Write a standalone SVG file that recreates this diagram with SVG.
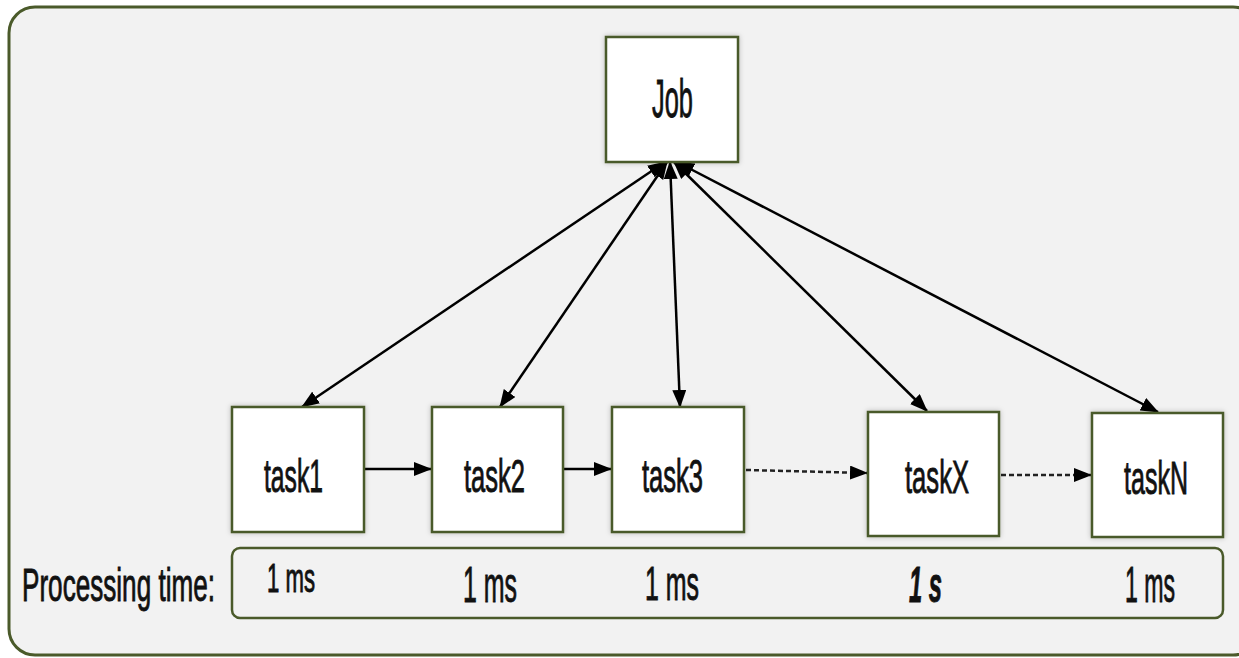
<svg xmlns="http://www.w3.org/2000/svg" width="1239" height="658" viewBox="0 0 1239 658">
<style>
.box{fill:#ffffff;stroke:#4a5a2a;stroke-width:2.5;filter:url(#sh)}
.lbl{font-family:"Liberation Sans",Arial,sans-serif;fill:#111111;stroke:#111111;stroke-width:0.9}
.c{stroke:#000;stroke-width:2.5;fill:none}
.d{stroke:#222;stroke-width:2.5;fill:none;stroke-dasharray:5,3}
</style>
<defs>
<filter id="sh" x="-10%" y="-10%" width="120%" height="120%">
<feDropShadow dx="0" dy="0" stdDeviation="2.5" flood-color="#000" flood-opacity="0.25"/>
</filter>
<marker id="ah" viewBox="0 0 18 14" refX="17" refY="7" markerWidth="18" markerHeight="14" markerUnits="userSpaceOnUse" orient="auto-start-reverse">
<path d="M0,0 L18,7 L0,14 z" fill="#000"/>
</marker>
</defs>
<rect x="9" y="7" width="1250" height="648" rx="26" fill="#f2f2f2" stroke="#4a5a2a" stroke-width="3"/>
<rect x="232" y="548" width="991" height="70" rx="8" fill="#f2f2f2" stroke="#4a5a2a" stroke-width="2.5"/>
<g id="connectors">
<line class="c" x1="665" y1="162" x2="302" y2="407" marker-start="url(#ah)" marker-end="url(#ah)"/>
<line class="c" x1="667" y1="162" x2="500" y2="407" marker-start="url(#ah)" marker-end="url(#ah)"/>
<line class="c" x1="670" y1="162" x2="680" y2="407" marker-start="url(#ah)" marker-end="url(#ah)"/>
<line class="c" x1="674" y1="162" x2="927" y2="411" marker-start="url(#ah)" marker-end="url(#ah)"/>
<line class="c" x1="677" y1="162" x2="1158" y2="412" marker-start="url(#ah)" marker-end="url(#ah)"/>
<line class="c" x1="364" y1="469" x2="431" y2="469" marker-end="url(#ah)"/>
<line class="c" x1="563" y1="469" x2="611" y2="469" marker-end="url(#ah)"/>
<line class="d" x1="746" y1="470" x2="867" y2="473" marker-end="url(#ah)"/>
<line class="d" x1="1001" y1="475" x2="1091" y2="475" marker-end="url(#ah)"/>
</g>
<g id="job">
<rect class="box" x="606" y="37" width="132" height="125"/>
<text class="lbl" transform="translate(652,117) scale(0.55,1)" font-size="54" textLength="74.5" lengthAdjust="spacingAndGlyphs">Job</text>
</g>
<g id="task1">
<rect class="box" x="232" y="407" width="132" height="125"/>
<text class="lbl" transform="translate(264,492) scale(0.55,1)" font-size="46" textLength="107.3" lengthAdjust="spacingAndGlyphs">task1</text>
</g>
<g id="task2">
<rect class="box" x="432" y="407" width="131" height="125"/>
<text class="lbl" transform="translate(464,492) scale(0.55,1)" font-size="46" textLength="110.9" lengthAdjust="spacingAndGlyphs">task2</text>
</g>
<g id="task3">
<rect class="box" x="612" y="407" width="132" height="125"/>
<text class="lbl" transform="translate(642,492) scale(0.55,1)" font-size="46" textLength="110.9" lengthAdjust="spacingAndGlyphs">task3</text>
</g>
<g id="taskX">
<rect class="box" x="868" y="412" width="131" height="124"/>
<text class="lbl" transform="translate(905,493) scale(0.55,1)" font-size="47" textLength="116.4" lengthAdjust="spacingAndGlyphs">taskX</text>
</g>
<g id="taskN">
<rect class="box" x="1092" y="413" width="131" height="124"/>
<text class="lbl" transform="translate(1124,494) scale(0.55,1)" font-size="47" textLength="116.4" lengthAdjust="spacingAndGlyphs">taskN</text>
</g>
<g id="times">
<text class="lbl" transform="translate(22,601) scale(0.55,1)" font-size="46" textLength="350.9" lengthAdjust="spacingAndGlyphs">Processing time:</text>
<text class="lbl" transform="translate(267,592) scale(0.55,1)" font-size="40" textLength="87.3" lengthAdjust="spacingAndGlyphs">1 ms</text>
<text class="lbl" transform="translate(463,602) scale(0.55,1)" font-size="50" textLength="98.2" lengthAdjust="spacingAndGlyphs">1 ms</text>
<text class="lbl" transform="translate(645,600) scale(0.55,1)" font-size="48" textLength="98.2" lengthAdjust="spacingAndGlyphs">1 ms</text>
<text class="lbl" transform="translate(909,602) scale(0.55,1)" font-size="50" font-weight="bold" font-style="italic" textLength="60" lengthAdjust="spacingAndGlyphs">1 s</text>
<text class="lbl" transform="translate(1125,602) scale(0.55,1)" font-size="50" textLength="90.9" lengthAdjust="spacingAndGlyphs">1 ms</text>
</g>
</svg>
